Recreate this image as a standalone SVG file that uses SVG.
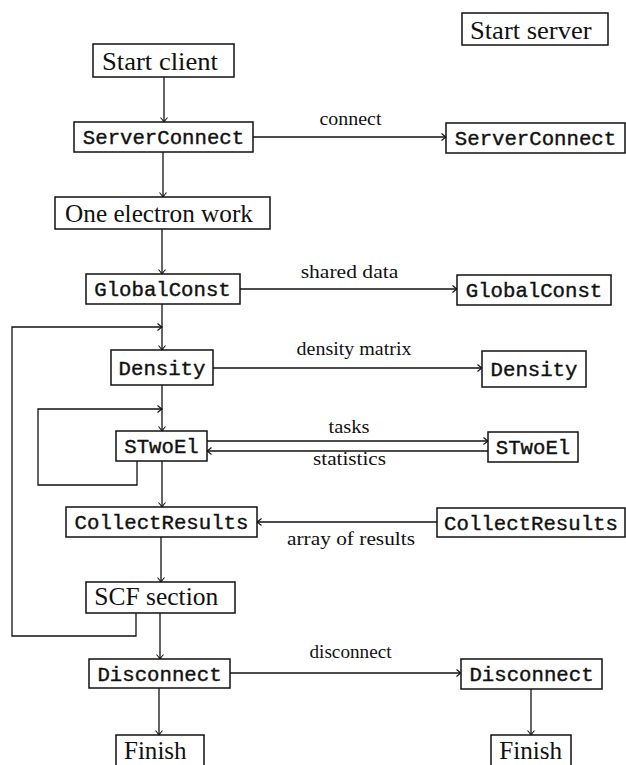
<svg xmlns="http://www.w3.org/2000/svg" width="626" height="765" viewBox="0 0 626 765">
<style>
.box{fill:#fff;stroke:#111;stroke-width:1.5}
.rm{font-family:"Liberation Serif","DejaVu Serif",serif;font-size:26px;fill:#111;text-anchor:middle}
.tt{font-family:"Liberation Mono","DejaVu Sans Mono",monospace;font-size:20.7px;fill:#111;stroke:#111;stroke-width:0.4;text-anchor:middle}
.lb{font-family:"Liberation Serif","DejaVu Serif",serif;font-size:18.5px;fill:#111;text-anchor:middle}
.ln{fill:none;stroke:#111;stroke-width:1.3}
</style>
<defs>
<marker id="ah" markerWidth="10" markerHeight="10" refX="0" refY="0" viewBox="-6 -5 8 10" orient="auto" markerUnits="userSpaceOnUse">
<path d="M -4.5 -3.5 Q -1.2 -0.6 0 0 Q -1.2 0.6 -4.5 3.5" fill="none" stroke="#111" stroke-width="1.1"/>
</marker>
</defs>
<rect width="626" height="765" fill="#fff"/>
<g id="connectors">
<path class="ln" d="M164 77 V122" marker-end="url(#ah)"/>
<path class="ln" d="M163 152 V197" marker-end="url(#ah)"/>
<path class="ln" d="M162 229 V274" marker-end="url(#ah)"/>
<path class="ln" d="M162 304 V350" marker-end="url(#ah)"/>
<path class="ln" d="M162 385 V431" marker-end="url(#ah)"/>
<path class="ln" d="M162 461 V507" marker-end="url(#ah)"/>
<path class="ln" d="M161 537 V582" marker-end="url(#ah)"/>
<path class="ln" d="M160 613 V659" marker-end="url(#ah)"/>
<path class="ln" d="M159 688 V735" marker-end="url(#ah)"/>
<path class="ln" d="M531 689 V735" marker-end="url(#ah)"/>
<path class="ln" d="M253 137 H446" marker-end="url(#ah)"/>
<path class="ln" d="M240 289 H457" marker-end="url(#ah)"/>
<path class="ln" d="M213 368 H482" marker-end="url(#ah)"/>
<path class="ln" d="M207 441 H488" marker-end="url(#ah)"/>
<path class="ln" d="M488 451 H207" marker-end="url(#ah)"/>
<path class="ln" d="M437 522 H257" marker-end="url(#ah)"/>
<path class="ln" d="M230 673 H461" marker-end="url(#ah)"/>
<path class="ln" d="M137 461 V485 H38 V409 H162" marker-end="url(#ah)"/>
<path class="ln" d="M136 613 V636 H12 V327 H162" marker-end="url(#ah)"/>
<text class="lb" x="350.5" y="125" textLength="62" lengthAdjust="spacingAndGlyphs">connect</text>
<text class="lb" x="349.5" y="278" textLength="97.6" lengthAdjust="spacingAndGlyphs">shared data</text>
<text class="lb" x="354" y="355" textLength="115" lengthAdjust="spacingAndGlyphs">density matrix</text>
<text class="lb" x="349" y="433" textLength="41" lengthAdjust="spacingAndGlyphs">tasks</text>
<text class="lb" x="349.5" y="465" textLength="73" lengthAdjust="spacingAndGlyphs">statistics</text>
<text class="lb" x="351" y="545" textLength="128" lengthAdjust="spacingAndGlyphs">array of results</text>
<text class="lb" x="350.5" y="658" textLength="82" lengthAdjust="spacingAndGlyphs">disconnect</text>
</g>
<g id="start_client"><rect class="box" x="93" y="44" width="141" height="33"/><text class="rm" x="160" y="70" textLength="116" lengthAdjust="spacingAndGlyphs">Start client</text></g>
<g id="client_serverconnect"><rect class="box" x="74" y="122" width="179" height="30"/><text class="tt" x="163.5" y="144.3">ServerConnect</text></g>
<g id="one_electron"><rect class="box" x="55" y="197" width="215" height="32"/><text class="rm" x="159" y="222" textLength="188" lengthAdjust="spacingAndGlyphs">One electron work</text></g>
<g id="client_globalconst"><rect class="box" x="86" y="274" width="154" height="30"/><text class="tt" x="162.5" y="296.3">GlobalConst</text></g>
<g id="client_density"><rect class="box" x="111" y="350" width="102" height="35"/><text class="tt" x="162" y="374.8">Density</text></g>
<g id="client_stwoel"><rect class="box" x="116" y="431" width="91" height="30"/><text class="tt" x="161.5" y="453.3">STwoEl</text></g>
<g id="client_collect"><rect class="box" x="66" y="507" width="191" height="30"/><text class="tt" x="161.5" y="529.3">CollectResults</text></g>
<g id="scf_section"><rect class="box" x="86" y="582" width="149" height="31"/><text class="rm" x="156.3" y="605" textLength="124" lengthAdjust="spacingAndGlyphs">SCF section</text></g>
<g id="client_disconnect"><rect class="box" x="89" y="659" width="141" height="29"/><text class="tt" x="159.5" y="680.8">Disconnect</text></g>
<g id="client_finish"><rect class="box" x="116" y="735" width="88" height="32"/><text class="rm" x="155.3" y="759" textLength="62.7" lengthAdjust="spacingAndGlyphs">Finish</text></g>
<g id="start_server"><rect class="box" x="462" y="13" width="146" height="32"/><text class="rm" x="530.8" y="38.5" textLength="121.7" lengthAdjust="spacingAndGlyphs">Start server</text></g>
<g id="server_serverconnect"><rect class="box" x="446" y="123" width="179" height="30"/><text class="tt" x="535.5" y="145.3">ServerConnect</text></g>
<g id="server_globalconst"><rect class="box" x="457" y="275" width="154" height="30"/><text class="tt" x="534" y="297.3">GlobalConst</text></g>
<g id="server_density"><rect class="box" x="482" y="351" width="104" height="36"/><text class="tt" x="534" y="376.3">Density</text></g>
<g id="server_stwoel"><rect class="box" x="488" y="432" width="90" height="30"/><text class="tt" x="533" y="454.3">STwoEl</text></g>
<g id="server_collect"><rect class="box" x="437" y="508" width="188" height="29"/><text class="tt" x="531" y="529.8">CollectResults</text></g>
<g id="server_disconnect"><rect class="box" x="461" y="659" width="141" height="30"/><text class="tt" x="531.5" y="681.3">Disconnect</text></g>
<g id="server_finish"><rect class="box" x="491" y="735" width="80" height="32"/><text class="rm" x="530.7" y="759" textLength="63" lengthAdjust="spacingAndGlyphs">Finish</text></g>
</svg>
